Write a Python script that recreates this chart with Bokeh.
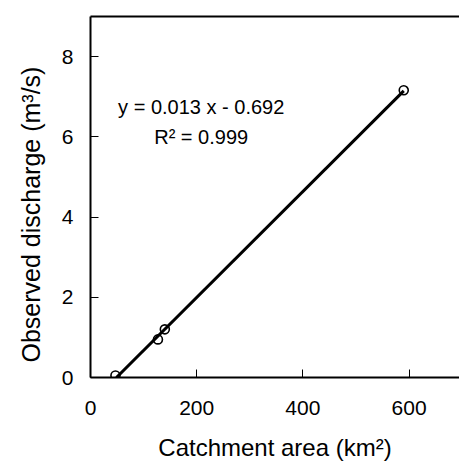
import numpy as np
from bokeh.plotting import figure
from bokeh.models import LinearAxis, FixedTicker, Range1d, Label, Title
from bokeh.embed import file_html
from bokeh.resources import INLINE

# Data
catchment_area = [47, 127, 140, 590]        # km²
observed_discharge = [0.05, 0.95, 1.2, 7.16]  # m³/s

x_ticks = [0, 200, 400, 600]
y_ticks = [0, 2, 4, 6, 8]

x_title = "Catchment area (km²)"
y_title = "Observed discharge (m³/s)"
equation_text = "y = 0.013 x - 0.692"
r2_text = "R² = 0.999"

FONT = "Liberation Sans"

p = figure(width=459, height=463, output_backend="svg", toolbar_location=None,
           x_range=Range1d(0, 695), y_range=Range1d(0, 9),
           min_border_left=89, min_border_right=0, min_border_top=16,
           min_border_bottom=86, background_fill_color="white",
           border_fill_color="white")
p.outline_line_color = None
p.grid.visible = False

# Regression line from the data
slope, intercept = np.polyfit(catchment_area, observed_discharge, 1)
x0 = -intercept / slope
x1 = max(catchment_area)
p.line([x0, x1], [slope * x0 + intercept, slope * x1 + intercept],
       line_color="black", line_width=3)

p.scatter(catchment_area, observed_discharge, marker="circle", size=9,
          fill_color="white", fill_alpha=0, line_color="black", line_width=1.6)

for ax in (p.xaxis[0], p.yaxis[0]):
    ax.axis_line_width = 2
    ax.axis_line_color = "black"
    ax.major_tick_in = 8
    ax.major_tick_out = 0
    ax.major_tick_line_width = 1
    ax.minor_tick_line_color = None
    ax.major_label_text_font = FONT
    ax.major_label_text_font_size = "21px"
    ax.major_label_text_color = "black"
    ax.axis_label_text_font = FONT
    ax.axis_label_text_font_size = "24px"
    ax.axis_label_text_font_style = "normal"
    ax.axis_label_text_color = "black"

p.xaxis[0].ticker = FixedTicker(ticks=x_ticks)
p.yaxis[0].ticker = FixedTicker(ticks=y_ticks)
p.xaxis[0].axis_label = x_title
p.xaxis[0].major_label_standoff = 23
p.xaxis[0].axis_label_standoff = 16
p.yaxis[0].major_label_standoff = 17

top_axis = LinearAxis(ticker=FixedTicker(ticks=[]), axis_line_width=2,
                      axis_line_color="black", major_tick_line_color=None,
                      minor_tick_line_color=None, major_label_text_font_size="0px",
                      major_tick_in=0, major_tick_out=0, major_label_standoff=0)
p.add_layout(top_axis, "above")

label_style = dict(text_font=FONT, text_font_size="20px", text_color="black",
                   text_baseline="middle")
p.add_layout(Label(x=52, y=6.75, text=equation_text, **label_style))
p.add_layout(Label(x=120, y=6.0, text=r2_text, **label_style))

# Y axis title: starts a little above the frame bottom, as in the reference
p.add_layout(Title(text=y_title, align="left", offset=15, standoff=28,
                   text_font=FONT, text_font_size="25px",
                   text_font_style="normal", text_color="black"), "left")

open("out.html", "w").write(file_html(p, INLINE))
